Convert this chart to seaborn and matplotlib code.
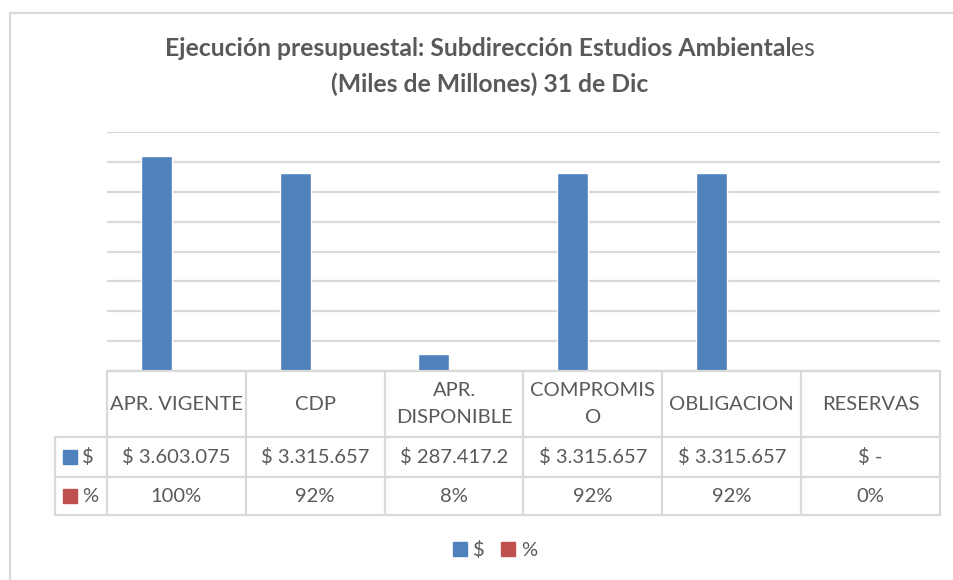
import pandas as pd
import matplotlib.pyplot as plt
import matplotlib.patches as mpatches
import seaborn as sns

# Data
categorias = ['APR. VIGENTE', 'CDP', 'APR.\nDISPONIBLE', 'COMPROMIS\nO', 'OBLIGACION', 'RESERVAS']
valores_pesos = [3603075, 3315657, 287417.2, 3315657, 3315657, 0]
valores_pct = [1.00, 0.92, 0.08, 0.92, 0.92, 0.00]
etiquetas_pesos = ['$ 3.603.075', '$ 3.315.657', '$ 287.417.2', '$ 3.315.657', '$ 3.315.657', '$ -']
etiquetas_pct = ['100%', '92%', '8%', '92%', '92%', '0%']
series = ['$', '%']

# Style
sns.set_style('white')
plt.rcParams['font.family'] = ['Lato', 'DejaVu Sans']
azul = '#4F81BD'
rojo = '#C0504D'
gris_txt = '#595959'
gris_linea = '#D9D9D9'
fs_tabla = 14.5

df = pd.DataFrame({
    'categoria': categorias * 2,
    'serie': [series[0]] * len(categorias) + [series[1]] * len(categorias),
    'valor': valores_pesos + valores_pct,
})

W, H = 954, 580
fig = plt.figure(figsize=(W / 100, H / 100), dpi=100)
ax = fig.add_axes([107 / W, 1 - 371 / H, (940 - 107) / W, (371 - 132) / H])

sns.barplot(data=df, x='categoria', y='valor', hue='serie', order=categorias,
            palette=[azul, rojo], saturation=1, width=0.58, gap=0.23, legend=False, ax=ax)

ax.set_ylim(0, 4000000)
ax.set_xlim(-0.5, len(categorias) - 0.5)
ax.set_yticks(range(0, 4000001, 500000))
ax.yaxis.grid(True, color=gris_linea, linewidth=1.6)
ax.set_axisbelow(True)
ax.set_yticklabels([])
ax.set_xticks([])
ax.set_xlabel('')
ax.set_ylabel('')
ax.tick_params(left=False, bottom=False)
for s in ax.spines.values():
    s.set_visible(False)

# Data table below the axis
tr = ax.get_xaxis_transform()
y_head = -(437 - 371) / 239
y_pes = -(477 - 371) / 239
y_pct = -(515 - 371) / 239
x_key = -0.5 - (107 - 55) / 139
x_end = len(categorias) - 0.5
lk = dict(color=gris_linea, linewidth=1.6, transform=tr, clip_on=False)

ax.plot([-0.5, x_end], [0, 0], **lk)
for yy in [y_head, y_pes, y_pct]:
    ax.plot([x_key, x_end], [yy, yy], **lk)
for i in range(len(categorias) + 1):
    ax.plot([i - 0.5, i - 0.5], [0, y_pct], **lk)
ax.plot([x_key, x_key], [y_head, y_pct], **lk)

for i, cat in enumerate(categorias):
    ax.text(i, y_head / 2, cat, transform=tr, ha='center', va='center',
            fontsize=fs_tabla, color=gris_txt, linespacing=1.65)
    ax.text(i, (y_head + y_pes) / 2, etiquetas_pesos[i], transform=tr, ha='center',
            va='center', fontsize=fs_tabla, color=gris_txt)
    ax.text(i, (y_pes + y_pct) / 2, etiquetas_pct[i], transform=tr, ha='center',
            va='center', fontsize=fs_tabla, color=gris_txt)

# legend keys inside the table
sq_w = 14 / 139
sq_h = 14 / 239
for yy0, yy1, col, lab in [(y_head, y_pes, azul, '$'), (y_pes, y_pct, rojo, '%')]:
    ym = (yy0 + yy1) / 2
    ax.add_patch(mpatches.Rectangle((-0.5 - (107 - 63) / 139, ym - sq_h / 2), sq_w, sq_h,
                                    transform=tr, color=col, clip_on=False))
    ax.text(-0.5 - (107 - 82) / 139, ym, lab, transform=tr, ha='left', va='center',
            fontsize=fs_tabla, color=gris_txt)

# Bottom legend
handles = [mpatches.Patch(color=azul, label=series[0]), mpatches.Patch(color=rojo, label=series[1])]
fig.legend(handles=handles, loc='center', bbox_to_anchor=(495 / W, 1 - 550 / H), ncol=2,
           frameon=False, fontsize=fs_tabla, handlelength=0.7, handleheight=0.7,
           handletextpad=0.3, columnspacing=0.8, labelcolor=gris_txt)

# Outer chart border
fig.add_artist(plt.Line2D([10 / W, 10 / W], [0, 1 - 13 / H], color=gris_linea, linewidth=1.6))
fig.add_artist(plt.Line2D([10 / W, 1], [1 - 13 / H, 1 - 13 / H], color=gris_linea, linewidth=1.6))

# Title (last "es" is not bold in the original)
fs_tit = 17.8
t1 = fig.text(0, 1 - 56 / H, 'Ejecución presupuestal: Subdirección Estudios Ambiental',
              fontsize=fs_tit, fontweight='bold', color=gris_txt, ha='left', va='baseline')
t2 = fig.text(0, 1 - 56 / H, 'es', fontsize=fs_tit, color=gris_txt, ha='left', va='baseline')
fig.text(490 / W, 1 - 92 / H, '(Miles de Millones) 31 de Dic', fontsize=fs_tit,
         fontweight='bold', color=gris_txt, ha='center', va='baseline')
fig.canvas.draw()
w1 = t1.get_window_extent().width
w2 = t2.get_window_extent().width
x0 = 490 - (w1 + w2) / 2
t1.set_x(x0 / W)
t2.set_x((x0 + w1) / W)

plt.savefig('out.png', dpi=100)
plt.close()
